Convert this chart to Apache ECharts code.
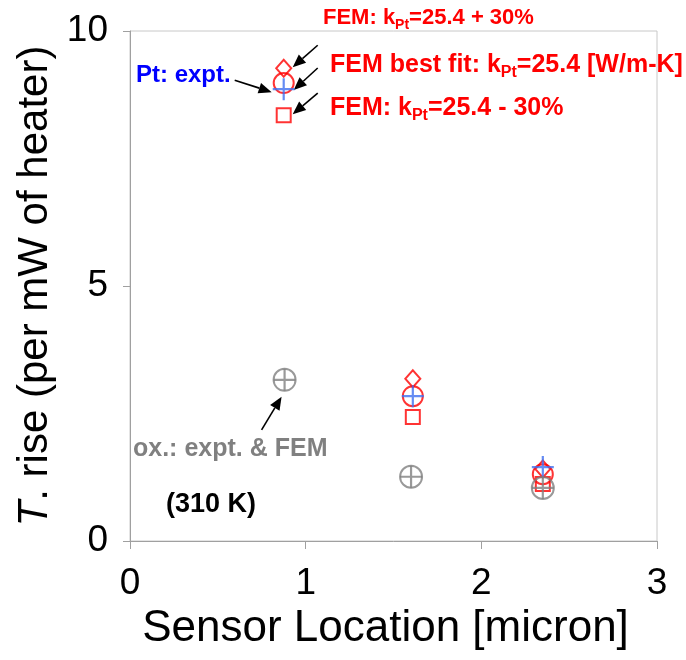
<!DOCTYPE html>
<html>
<head>
<meta charset="utf-8">
<script src="https://cdn.jsdelivr.net/npm/echarts@6/dist/echarts.min.js"></script>
<style>
  html, body { margin: 0; padding: 0; background: #fff; }
  #chart { width: 686px; height: 660px; }
</style>
</head>
<body>
<div id="chart"></div>
<script>
// Sensor positions along the line (micron)
const sensorX = [0.875, 1.61, 2.35];
const oxideX = [0.88, 1.60, 2.35];

// Temperature rise per mW of heater power
const ptExpt   = [8.86, 2.84, 1.45];   // Pt: experiment
const femBest  = [8.98, 2.84, 1.31];   // FEM best fit, k_Pt = 25.4 W/m-K
const femPlus  = [9.27, 3.18, 1.41];   // FEM, k_Pt + 30%
const femMinus = [8.35, 2.43, 1.12];   // FEM, k_Pt - 30%
const oxide    = [3.16, 1.26, 1.04];   // oxide: experiment & FEM

const xTicks = [0, 1, 2, 3];
const yTicks = [0, 5, 10];

const RED = '#ff0000';
const BLUE = '#3f6ff0';
const GRAY = '#808080';
const FONT = '"Liberation Sans", Arial, sans-serif';

const plusPath = 'path://M9,0h2v20h-2z M0,9h20v2h-20z';

function pairs(xs, ys) { return xs.map((x, i) => [x, ys[i]]); }

function hollow(name, symbol, size, color, xs, ys) {
  return {
    name, type: 'scatter', symbol, symbolSize: size,
    data: pairs(xs, ys),
    itemStyle: { color: 'none', borderColor: color, borderWidth: 2 },
    emphasis: { disabled: true }, silent: true
  };
}
function plus(name, size, color, xs, ys) {
  return {
    name, type: 'scatter', symbol: plusPath, symbolSize: size,
    data: pairs(xs, ys),
    itemStyle: { color },
    emphasis: { disabled: true }, silent: true
  };
}

const chart = echarts.init(document.getElementById('chart'), null, { renderer: 'canvas' });

chart.setOption({
  animation: false,
  backgroundColor: '#fff',
  grid: { left: 130, right: 29, top: 31, bottom: 119, show: true, borderColor: '#c8c8c8', borderWidth: 1 },
  xAxis: {
    type: 'value', min: xTicks[0], max: xTicks[xTicks.length - 1], interval: 1,
    name: 'Sensor Location [micron]', nameLocation: 'middle', nameGap: 66,
    nameTextStyle: { fontFamily: FONT, fontSize: 44, color: '#000', padding: [0, 16, 0, 0] },
    axisLine: { show: true, lineStyle: { color: '#a0a0a0', width: 1 } },
    axisTick: { show: true, inside: false, length: 8, lineStyle: { color: '#a0a0a0' } },
    axisLabel: { fontFamily: FONT, fontSize: 37, color: '#000', margin: 24 },
    splitLine: { show: false }
  },
  yAxis: {
    type: 'value', min: yTicks[0], max: yTicks[yTicks.length - 1], interval: 5,
    name: '{it|T}. rise (per mW of heater)', nameLocation: 'middle', nameGap: 72,
    nameTextStyle: {
      fontFamily: FONT, fontSize: 42, color: '#000',
      rich: { it: { fontFamily: FONT, fontSize: 42, fontStyle: 'italic', color: '#000' } }
    },
    axisLine: { show: true, lineStyle: { color: '#a0a0a0', width: 1 } },
    axisTick: { show: true, inside: false, length: 7, lineStyle: { color: '#a0a0a0' } },
    axisLabel: { fontFamily: FONT, fontSize: 37, color: '#000', margin: 22 },
    splitLine: { show: false }
  },
  series: [
    hollow('FEM +30%', 'diamond', [15, 17], RED, sensorX, femPlus),
    hollow('FEM best fit', 'circle', 20, RED, sensorX, femBest),
    hollow('FEM -30%', 'rect', 14, RED, sensorX, femMinus),
    plus('Pt expt', 22, BLUE, sensorX, ptExpt),
    hollow('Oxide', 'circle', 22, GRAY, oxideX, oxide),
    plus('Oxide cross', 22, GRAY, oxideX, oxide)
  ]
});

// Annotation arrows anchored to the plotted points
function px(x, y) { return chart.convertToPixel({ gridIndex: 0 }, [x, y]); }

function arrow(x1, y1, x2, y2) {
  const ang = Math.atan2(y2 - y1, x2 - x1);
  const L = 13, W = 5.5;
  const bx = x2 - L * Math.cos(ang), by = y2 - L * Math.sin(ang);
  const nx = -Math.sin(ang) * W, ny = Math.cos(ang) * W;
  return [
    { type: 'line', shape: { x1, y1, x2: bx, y2: by }, style: { stroke: '#000', lineWidth: 1.6 }, silent: true },
    { type: 'polygon', shape: { points: [[x2, y2], [bx + nx, by + ny], [bx - nx, by - ny]] }, style: { fill: '#000' }, silent: true }
  ];
}

function label(x, y, text, size, color) {
  const sub = Math.round(size * 0.64);
  return {
    type: 'text', x, y, silent: true,
    style: {
      text, fill: color, font: `bold ${size}px ${FONT}`,
      verticalAlign: 'middle', align: 'left',
      rich: {
        b: { fontFamily: FONT, fontWeight: 'bold', fontSize: size, color, lineHeight: size + 6 },
        s: { fontFamily: FONT, fontWeight: 'bold', fontSize: sub, color, lineHeight: sub, verticalAlign: 'bottom' }
      }
    }
  };
}

const pDia = px(sensorX[0], femPlus[0]);
const pCir = px(sensorX[0], femBest[0]);
const pSq = px(sensorX[0], femMinus[0]);
const pPt = px(sensorX[0], ptExpt[0]);
const pOx = px(oxideX[0], oxide[0]);

const g = [].concat(
  arrow(pDia[0] + 34, pDia[1] - 23, pDia[0] + 9, pDia[1] - 1),
  arrow(pCir[0] + 34, pCir[1] - 15, pCir[0] + 10, pCir[1] + 7),
  arrow(pSq[0] + 34, pSq[1] - 22, pSq[0] + 9, pSq[1] - 1),
  arrow(pPt[0] - 49, pPt[1] - 9, pPt[0] - 12, pPt[1] + 3),
  arrow(pOx[0] - 23, pOx[1] + 50, pOx[0] - 3, pOx[1] + 17),
  [
    label(323, 18, '{b|FEM: k}{s|Pt}{b|=25.4 + 30%}', 22, RED),
    label(330, 65, '{b|FEM best fit: k}{s|Pt}{b|=25.4 [W/m-K]}', 25, RED),
    label(330, 108, '{b|FEM: k}{s|Pt}{b|=25.4 - 30%}', 25, RED),
    label(136, 75, '{b|Pt: expt.}', 24, '#0000ff'),
    label(133, 449, '{b|ox.: expt. & FEM}', 25, GRAY),
    label(166, 505, '{b|(310 K)}', 27, '#000')
  ]
);

chart.setOption({ graphic: { elements: g } });
</script>
</body>
</html>
